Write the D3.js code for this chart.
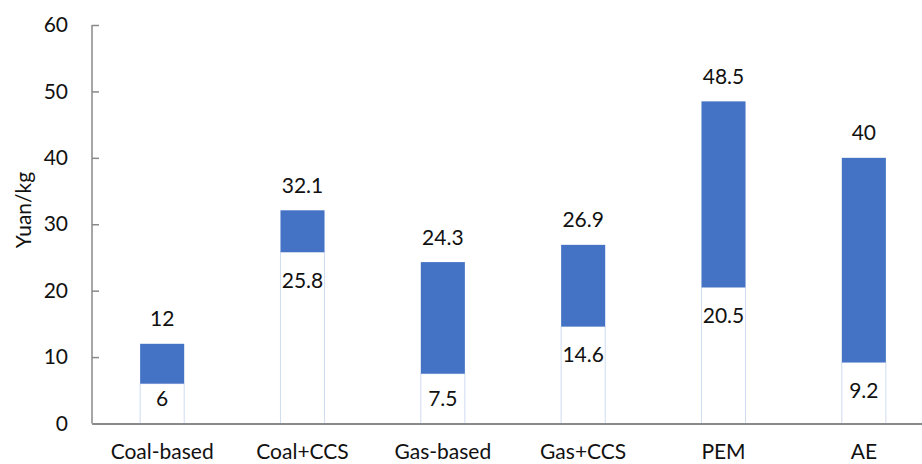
<!DOCTYPE html>
<html><head><meta charset="utf-8">
<script src="https://cdn.jsdelivr.net/npm/d3@7"></script>
<style>body{margin:0;background:#fff}svg{display:block}</style>
</head><body>
<svg id="c" width="922" height="464"></svg>
<script>
const categories = ["Coal-based","Coal+CCS","Gas-based","Gas+CCS","PEM","AE"];
const lowValues  = [6, 25.8, 7.5, 14.6, 20.5, 9.2];
const highValues = [12, 32.1, 24.3, 26.9, 48.5, 40];
const yTicks = [0,10,20,30,40,50,60];
const yTitle = "Yuan/kg";

const svg = d3.select("#c");
const font = "Lato, 'Open Sans', sans-serif";
const fs = 21;
const x0 = 92, y0 = 423.5;
const x = d3.scaleBand().domain(categories).range([x0, x0 + 842]).paddingInner(0.686).paddingOuter(0.343);
const y = d3.scaleLinear().domain([0,60]).range([y0, 25]);
const data = categories.map((c,i)=>({c, lo: lowValues[i], hi: highValues[i]}));

// lower (white) part
svg.append("g").selectAll("rect").data(data).join("rect")
  .attr("x", d=>x(d.c)).attr("width", x.bandwidth())
  .attr("y", d=>y(d.lo)).attr("height", d=>y(0)-y(d.lo))
  .attr("fill","#fff").attr("stroke","#cfdbf0").attr("stroke-width",1);
// upper (blue) part
svg.append("g").selectAll("rect").data(data).join("rect")
  .attr("x", d=>x(d.c)).attr("width", x.bandwidth())
  .attr("y", d=>y(d.hi)).attr("height", d=>y(d.lo)-y(d.hi))
  .attr("fill","#4472c4");

// y axis
const ya = svg.append("g").attr("transform",`translate(${x0},0)`)
  .call(d3.axisLeft(y).tickValues(yTicks).tickSize(-7).tickPadding(24).tickFormat(d3.format("d")));
ya.select(".domain").attr("stroke","#898989").attr("stroke-width",1.5).attr("d",`M0,${y(60)}V${y0}`);
ya.selectAll(".tick line").attr("stroke","#898989").attr("stroke-width",1.5).attr("x1",0).attr("x2",7);
ya.selectAll(".tick text").attr("font-family",font).attr("font-size",fs).attr("fill","#111");

// x axis
const xa = svg.append("g").attr("transform",`translate(0,${y0})`)
  .call(d3.axisBottom(x).tickSize(0).tickPadding(21));
xa.select(".domain").attr("stroke","#898989").attr("stroke-width",2);
xa.selectAll(".tick text").attr("font-family",font).attr("font-size",fs).attr("fill","#111");

// labels
svg.append("g").selectAll("text").data(data).join("text")
  .attr("x", d=>x(d.c)+x.bandwidth()/2).attr("y", d=>y(d.hi)-17.5)
  .attr("text-anchor","middle").attr("font-family",font).attr("font-size",fs).attr("fill","#111")
  .text(d=>d.hi);
svg.append("g").selectAll("text").data(data).join("text")
  .attr("x", d=>x(d.c)+x.bandwidth()/2).attr("y", d=>Math.min(y(d.lo)+35.5, y(0)-17.5))
  .attr("text-anchor","middle").attr("font-family",font).attr("font-size",fs).attr("fill","#111")
  .text(d=>d.lo);

// y title
svg.append("text").attr("transform",`translate(31,210) rotate(-90)`)
  .attr("text-anchor","middle").attr("font-family",font).attr("font-size",fs).attr("fill","#111")
  .text(yTitle);
</script>
</body></html>
